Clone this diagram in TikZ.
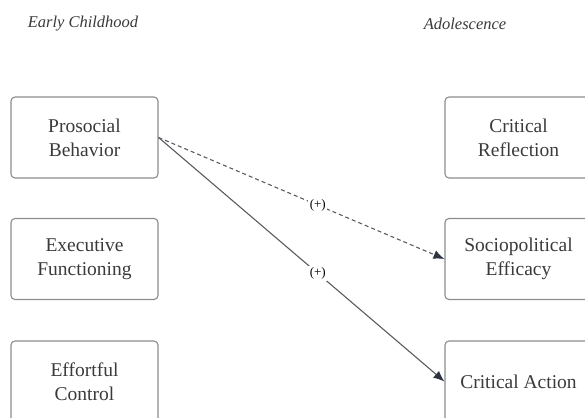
\documentclass[tikz,border=0pt]{standalone}
\usepackage{fontspec}
\setmainfont{Liberation Serif}
\usetikzlibrary{arrows.meta}
\definecolor{boxline}{HTML}{8C8C8C}
\definecolor{linkline}{HTML}{5A5C62}
\definecolor{tipcol}{HTML}{2E3440}
\definecolor{txt}{HTML}{3A3A3A}
\begin{document}
\begin{tikzpicture}[x=1pt,y=-1pt,
  construct/.style={draw=boxline, line width=1.1pt, rounded corners=4pt,
    minimum width=147pt, minimum height=81pt, align=center,
    font=\fontsize{19.5}{24}\selectfont, text=txt, inner sep=0pt},
  header/.style={font=\fontsize{16.5}{19}\selectfont\itshape, text=txt},
  link/.style={draw=linkline, line width=1.1pt,
    -{Latex[length=11pt,width=9pt,color=tipcol]}},
  sign/.style={fill=white, font=\fontsize{13}{15}\selectfont, text=black,
    inner sep=1.5pt, pos=0.557}]
  \useasboundingbox (0,0) rectangle (585,417);
  % period headings
  \node[header] (early) at (83,24) {Early Childhood};
  \node[header] (adol) at (465,24) {Adolescence};
  % early childhood constructs
  \node[construct] (pro) at (84.5,137.5) {Prosocial\\Behavior};
  \node[construct] (exe) at (84.5,259) {Executive\\Functioning};
  \node[construct] (eff) at (84.5,381.5) {Effortful\\Control};
  % adolescent outcomes
  \node[construct] (ref) at (518.5,137.5) {Critical\\Reflection};
  \node[construct] (spe) at (518.5,259) {Sociopolitical\\Efficacy};
  \node[construct] (act) at (518.5,381.5) {Critical Action};
  % paths
  \draw[link, dashed, dash pattern=on 4pt off 3pt] (pro.east) -- node[sign] {(+)} (spe.west);
  \draw[link] (pro.east) -- node[sign] {(+)} (act.west);
\end{tikzpicture}
\end{document}
